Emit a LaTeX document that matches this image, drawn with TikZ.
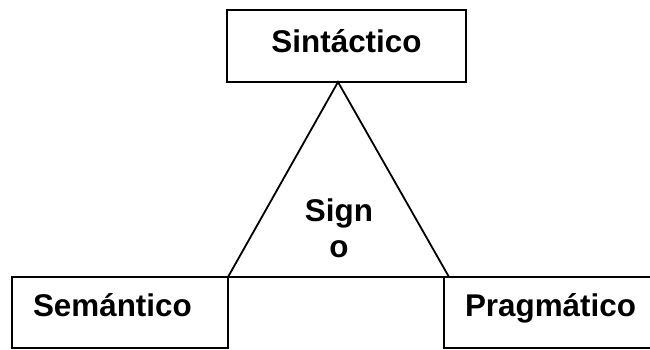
\documentclass[tikz,border=0pt]{standalone}
\usepackage{fontspec}
\setmainfont{Liberation Sans}
\usetikzlibrary{positioning}

\begin{document}
\begin{tikzpicture}
    [x=1pt, y=-1pt,
    line width=1.8pt,
    letra/.style={font=\bfseries\fontsize{31.4}{36}\selectfont},
    caja/.style={letra, draw, rectangle, outer sep=0pt, inner xsep=21pt, inner ysep=0pt,
        text width=174pt, align=left, text height=39.5pt, text depth=31.5pt}]
    \useasboundingbox (0,0) rectangle (650,349);
    \clip (0,0) rectangle (650,349);

        %% las tres dimensiones
    \node[caja, text width=197pt, align=center, text height=42.5pt, text depth=29.5pt] (sint) at (346.5,46) {Sintáctico};
        \node[caja] (sem) at (120,312.5) {Semántico};
        \node[caja, right=216pt of sem] (prag) {Pragmático};

        %% triangulo del signo
        \coordinate (cima) at ([xshift=-8.5pt]sint.south);
        \coordinate (baseD) at ([xshift=5pt]prag.north west);
        \draw[line join=miter] (cima) -- (sem.north east) -- (baseD) -- cycle;
        \node[letra, align=center, inner sep=0pt] (signo) at (339,228) {Sign\\o};
    \end{tikzpicture}
\end{document}
